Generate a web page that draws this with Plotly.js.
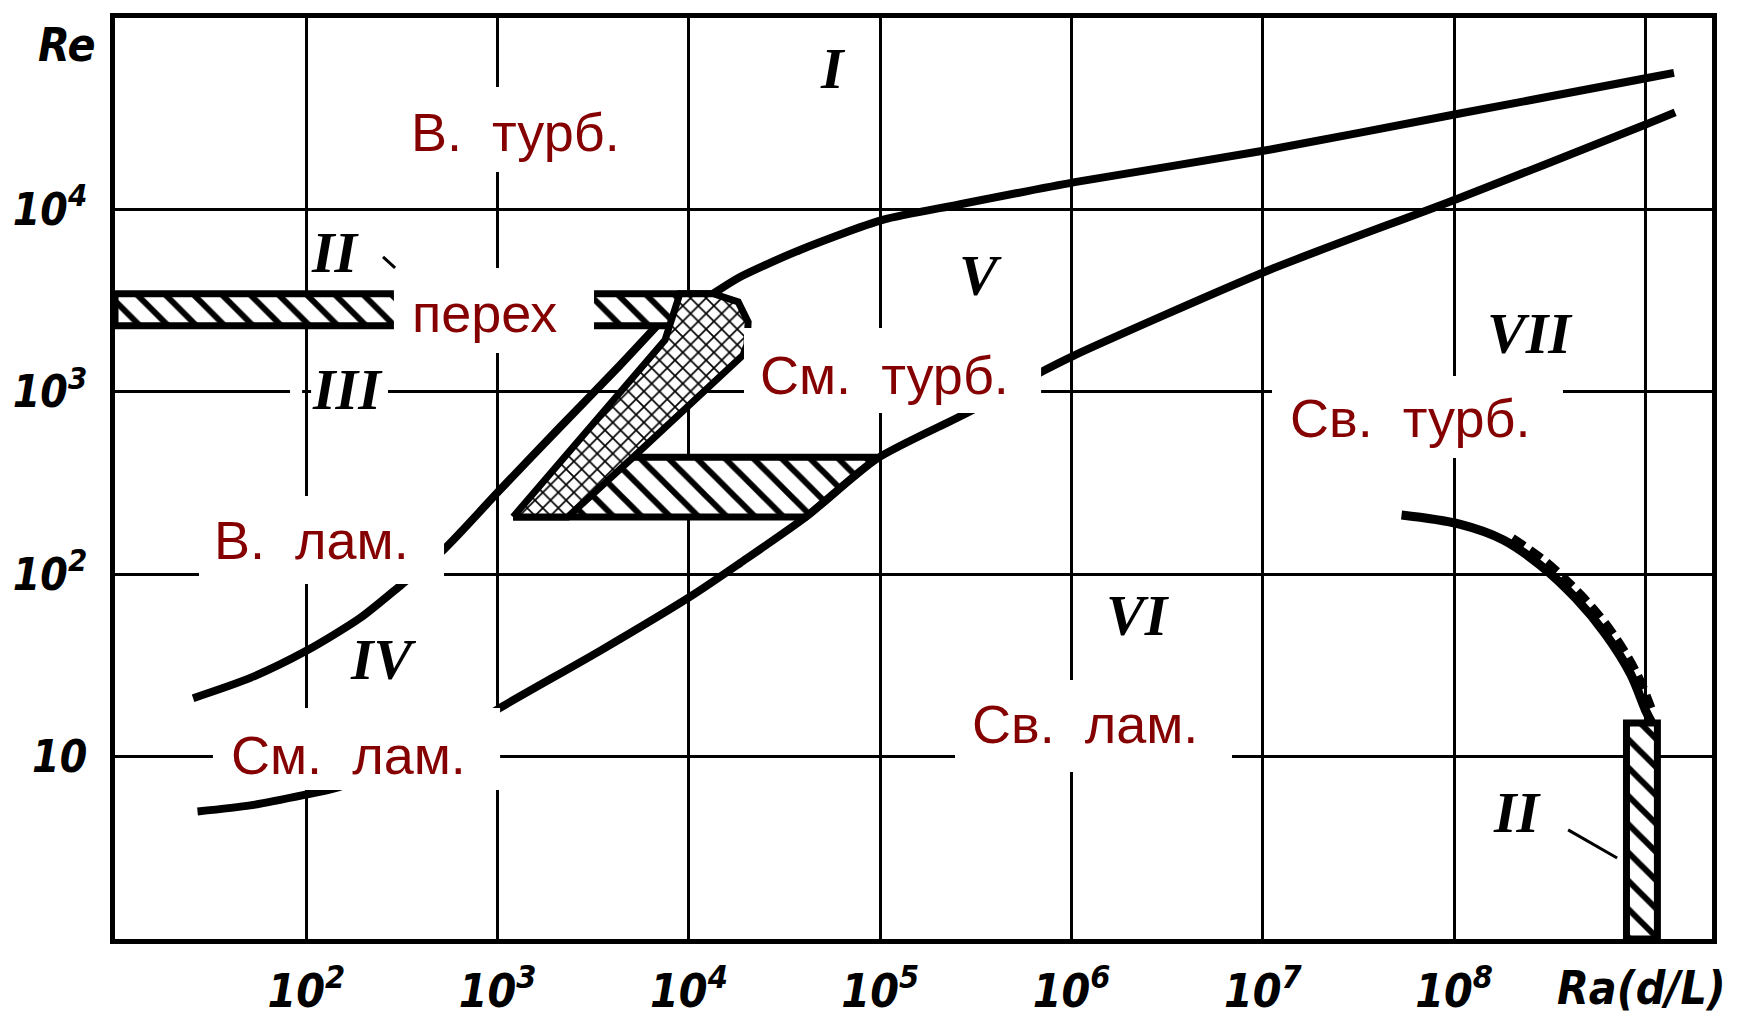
<!DOCTYPE html>
<html>
<head>
<meta charset="utf-8">
<script src="https://cdn.plot.ly/plotly-3.0.1.min.js"></script>
<style>
  html, body { margin: 0; padding: 0; background: #fff; }
  #chart { width: 1746px; height: 1024px; }
</style>
</head>
<body>
<div id="chart"></div>
<script>
// Flow regime map: Re versus Ra(d/L), both on log scales.

// Axis ticks
const xTickVals = [1e2, 1e3, 1e4, 1e5, 1e6, 1e7, 1e8, 1e9];
const xTickText = ['10<sup>2</sup>', '10<sup>3</sup>', '10<sup>4</sup>', '10<sup>5</sup>',
                   '10<sup>6</sup>', '10<sup>7</sup>', '10<sup>8</sup>', ''];
const yTickVals = [10, 100, 1000, 10000];
const yTickText = ['10', '10<sup>2</sup>', '10<sup>3</sup>', '10<sup>4</sup>'];

// Transition band II (forced flow, left side)
const bandRa = [10, 13400, 8200, 10, 10];
const bandRe = [3450, 3450, 2300, 2300, 3450];

// Cross-hatched diagonal strip of the mixed-flow transition
const stripRa = [1205, 7500, 8970, 13400, 18100, 20400, 20100, 19200, 5100, 2330, 1205];
const stripRe = [206, 1920, 3450, 3450, 3110, 2410, 1810, 1590, 437, 206, 206];

// Hatched lower band of the mixed-flow transition
const lowBandRa = [1205, 5100, 96200, 40900, 1205];
const lowBandRe = [206, 437, 437, 206, 206];

// Lower boundary of region IV, continuing as the V / VI and V / VII boundary
const lowerRa = [27, 51, 100, 140, 400, 1030, 3430, 10500, 18500, 40900, 96200,
                 284000, 710000, 1030000, 1.08e7, 1.035e8, 9.73e8, 1.43e9];
const lowerRe = [5.0, 5.4, 6.2, 6.7, 10, 18.5, 38, 77, 115, 206, 430,
                 765, 1300, 1580, 4650, 11400, 28800, 34000];

// Upper boundary of region IV (forced laminar limit)
const upperIVRa = [25.6, 51, 100, 191, 316, 525, 1030, 2120, 4370, 6800];
const upperIVRe = [20.9, 27, 38, 57.5, 88, 137, 290, 640, 1400, 2300];

// Boundary between forced turbulent (I) and mixed turbulent (V) flow
const turbRa = [13400, 18500, 38100, 103000, 255000, 1.04e6, 1.08e7, 1.035e8, 9.73e8, 1.41e9];
const turbRe = [3450, 4260, 5990, 8750, 10600, 14100, 21200, 33300, 52000, 56000];

// Free-convection laminar / turbulent boundary
const freeRa = [5.31e7, 1.067e8, 1.81e8, 2.82e8, 4.31e8, 6.18e8, 8.36e8, 1.0e9, 1.075e9];
const freeRe = [211, 188, 154, 112, 74, 47, 28.4, 18.0, 15.5];
const freeDashRa = [2.02e8, 3.03e8, 4.62e8, 6.64e8, 8.97e8, 1.075e9];
const freeDashRe = [158, 117, 77, 48.8, 29.1, 18.5];

// Free-convection transition bar (II, right side)
const barRa = [7.96e8, 7.96e8, 1.155e9, 1.155e9, 7.96e8];
const barRe = [1, 15.3, 15.3, 1, 1];

const INK = '#000';
const X_RANGE = [1, 9.348];   // log10 Ra(d/L)
const Y_RANGE = [0, 5.049];   // log10 Re

// log10 axis units -> paper fractions (used for overlay panels and leaders)
const px = v => (v - X_RANGE[0]) / (X_RANGE[1] - X_RANGE[0]);
const py = v => (v - Y_RANGE[0]) / (Y_RANGE[1] - Y_RANGE[0]);

function hatched(ra, re, shape, size, solidity) {
  return {
    x: ra, y: re, type: 'scatter', mode: 'lines', fill: 'toself',
    fillcolor: '#fff',
    fillpattern: { shape: shape, size: size, solidity: solidity,
                   fgcolor: INK, bgcolor: '#fff', fillmode: 'replace' },
    line: { color: INK, width: 7 },
    hoverinfo: 'skip', showlegend: false
  };
}

function curve(ra, re, width, dash, smoothing) {
  return {
    x: ra, y: re, type: 'scatter', mode: 'lines',
    line: { color: INK, width: width, shape: 'spline',
            smoothing: smoothing || 0.7, dash: dash || 'solid' },
    hoverinfo: 'skip', showlegend: false
  };
}

const traces = [
  hatched(bandRa, bandRe, '\\', 20, 0.3),
  hatched(lowBandRa, lowBandRe, '\\', 20, 0.3),
  hatched(stripRa, stripRe, 'x', 11, 0.28),
  curve(upperIVRa, upperIVRe, 8),
  curve(lowerRa, lowerRe, 8),
  curve(turbRa, turbRe, 8),
  curve(freeRa, freeRe, 9, 'solid', 1.0),
  curve(freeDashRa, freeDashRe, 8, '14px,7px', 1.0),
  hatched(barRa, barRe, '\\', 20, 0.3)
];

// Regime labels (positions in log10 axis units)
const regimeFont = { family: 'Liberation Sans, Arial, sans-serif', size: 54, color: '#850000' };
const regimes = [
  { text: 'В.\u00a0\u00a0турб.',  x: 3.096, y: 4.424, box: [2.464, 3.718, 4.205, 4.671] },
  { text: 'перех',                x: 2.929, y: 3.432, box: [2.458, 3.504, 3.213, 3.679] },
  { text: 'См.\u00a0\u00a0турб.', x: 5.020, y: 3.092, box: [4.288, 5.841, 2.884, 3.350] },
  { text: 'В.\u00a0\u00a0лам.',   x: 2.025, y: 2.188, box: [1.439, 2.720, 1.946, 2.429] },
  { text: 'См.\u00a0\u00a0лам.',  x: 2.218, y: 1.009, box: [1.512, 3.013, 0.817, 1.266] },
  { text: 'Св.\u00a0\u00a0лам.',  x: 6.071, y: 1.179, box: [5.391, 6.839, 0.916, 1.420] },
  { text: 'Св.\u00a0\u00a0турб.', x: 7.770, y: 2.856, box: [7.048, 8.569, 2.637, 3.087] }
];

const romanFont = { family: 'Liberation Serif, DejaVu Serif, serif', size: 58, color: INK,
                    weight: 'bold', style: 'italic' };
const numerals = [
  { text: 'I',   x: 4.753, y: 4.770 },
  { text: 'II',  x: 2.150, y: 3.766 },
  { text: 'III', x: 2.213, y: 3.010 },
  { text: 'IV',  x: 2.401, y: 1.530 },
  { text: 'V',   x: 5.522, y: 3.635 },
  { text: 'VI',  x: 6.348, y: 1.771 },
  { text: 'VII', x: 8.397, y: 3.322 },
  { text: 'II',  x: 8.331, y: 0.696 }
];

function panel(x0, x1, y0, y1) {
  return { type: 'rect', xref: 'paper', yref: 'paper',
           x0: px(x0), x1: px(x1), y0: py(y0), y1: py(y1),
           fillcolor: '#fff', line: { width: 0 }, layer: 'above' };
}
function leader(x0, y0, x1, y1) {
  return { type: 'line', xref: 'paper', yref: 'paper',
           x0: px(x0), y0: py(y0), x1: px(x1), y1: py(y1),
           line: { color: INK, width: 3 }, layer: 'above' };
}

const shapes = [];
// gap in the 10^3 grid line around the numeral III
shapes.push(panel(1.915, 1.978, 2.977, 3.043));
shapes.push(panel(2.025, 2.427, 2.977, 3.043));
// white label panels
regimes.forEach(r => shapes.push(panel(r.box[0], r.box[1], r.box[2], r.box[3])));
// leader lines from the numerals II
shapes.push(leader(8.596, 0.598, 8.852, 0.444));
shapes.push(leader(2.401, 3.739, 2.464, 3.679));

const annotations = [];
regimes.forEach(r => annotations.push({
  text: r.text, x: r.x, y: r.y, xref: 'x', yref: 'y', showarrow: false,
  font: regimeFont, xanchor: 'center', yanchor: 'middle'
}));
numerals.forEach(n => annotations.push({
  text: n.text, x: n.x, y: n.y, xref: 'x', yref: 'y', showarrow: false,
  font: romanFont, xanchor: 'center', yanchor: 'middle'
}));

const handFamily = 'Liberation Sans Narrow, DejaVu Sans Condensed, Liberation Sans, sans-serif';
const handFont = size => ({ family: handFamily, size: size, color: INK, weight: 'bold', style: 'italic' });
annotations.push({ text: 'Re', xref: 'paper', yref: 'paper', x: -0.030, y: 0.971,
                   showarrow: false, font: handFont(46), xanchor: 'center', yanchor: 'middle' });
annotations.push({ text: 'Ra(d/L)', xref: 'paper', yref: 'paper', x: 0.956, y: -0.053,
                   showarrow: false, font: handFont(46), xanchor: 'center', yanchor: 'middle' });

const axisCommon = {
  type: 'log', showgrid: true, gridcolor: INK, gridwidth: 3, zeroline: false,
  showline: true, linecolor: INK, linewidth: 5, mirror: true,
  ticks: 'outside', tickcolor: 'rgba(0,0,0,0)', tickwidth: 1,
  fixedrange: true
};

const layout = {
  width: 1746, height: 1024,
  margin: { l: 115, r: 34, t: 18, b: 85 },
  paper_bgcolor: '#fff', plot_bgcolor: '#fff',
  showlegend: false,
  xaxis: Object.assign({}, axisCommon, {
    range: X_RANGE, tickmode: 'array', tickvals: xTickVals, ticktext: xTickText,
    ticklen: 8, tickfont: handFont(46)
  }),
  yaxis: Object.assign({}, axisCommon, {
    range: Y_RANGE, tickmode: 'array', tickvals: yTickVals, ticktext: yTickText,
    ticklen: 14, tickfont: handFont(44)
  }),
  shapes: shapes,
  annotations: annotations
};

Plotly.newPlot('chart', traces, layout, { displayModeBar: false, staticPlot: true });
</script>
</body>
</html>
